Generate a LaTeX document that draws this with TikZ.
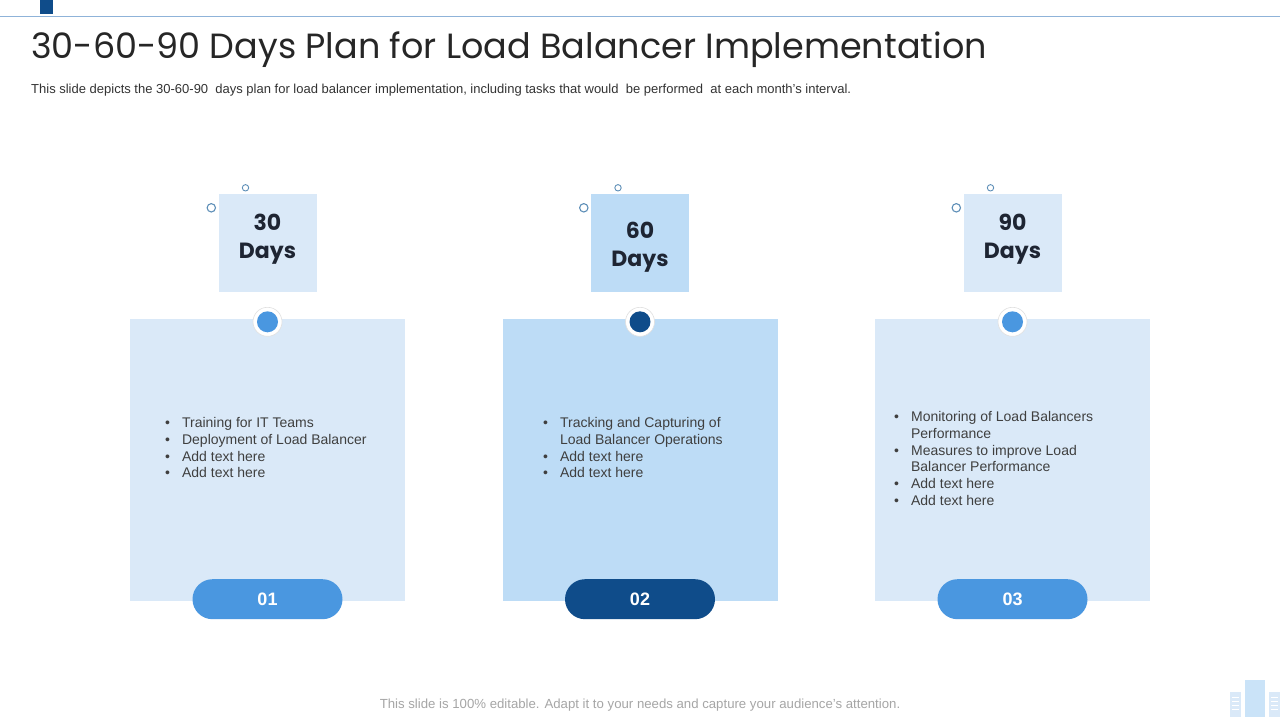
\documentclass[tikz,border=0pt]{standalone}
\usepackage{fontspec}
\setmainfont{Liberation Sans}
\newfontfamily\gothic{Poppins}
\usetikzlibrary{positioning}
\definecolor{navy}{HTML}{0F4C8A}
\definecolor{skyblue}{HTML}{4A97E0}
\definecolor{paleblue}{HTML}{DAE9F8}
\definecolor{midblue}{HTML}{BDDCF6}
\definecolor{rulecol}{HTML}{8FB3D9}
\definecolor{inkcol}{HTML}{3F3F3F}
\definecolor{ringcol}{HTML}{5E8FB8}
\definecolor{daytext}{HTML}{1E2533}
\tikzset{
  daybox/.style={minimum width=98pt,minimum height=98pt,inner sep=0pt},
  daytxt/.style={font=\gothic\bfseries\fontsize{22}{28}\selectfont,text=daytext,align=center,inner sep=0pt},
  cardbox/.style={minimum width=275pt,minimum height=282pt,inner sep=0pt},
  pill/.style={rounded corners=20pt,minimum width=150pt,minimum height=40pt,inner sep=0pt,text=white,font=\bfseries\fontsize{18}{20}\selectfont},
  bullets/.style={anchor=north west,inner sep=0pt,text=inkcol,font=\fontsize{14}{16.7}\selectfont,align=left},
}
\newcommand\bul{\textbullet}
\begin{document}
\begin{tikzpicture}[x=1pt,y=-1pt]
  \useasboundingbox[fill=white] (0,0) rectangle (1280,720);
  % header
  \draw[rulecol,line width=1pt] (0,16)--(1280,16);
  \fill[navy] (40,0) rectangle (53,14);
  \node[anchor=west,inner sep=0pt,text=black!85,font=\gothic\fontsize{35}{38}\selectfont] (title) at (31,50) {30-60-90 Days Plan for Load Balancer Implementation};
  \node[anchor=west,inner sep=0pt,text=black!80,font=\fontsize{13}{15}\selectfont] (sub) at (31,90) {This slide depicts the 30-60-90~ days plan for load balancer implementation, including tasks that would~ be performed~ at each month's interval.};
  % columns
  \foreach \n/\x/\d/\dy/\cfill/\dfill in {1/267.5/30/4/paleblue/skyblue, 2/640/60/-4/midblue/navy, 3/1012.5/90/4/paleblue/skyblue}{
    \node[daybox,fill=\cfill] (day\n) at (\x,243) {};
    \node[daytxt] (dayt\n) at ([yshift=\dy]day\n.center) {\d\\Days};
    \draw[ringcol,line width=0.9pt] ([xshift=-22pt,yshift=6pt]day\n.north) circle (3.2);
    \draw[ringcol,line width=1.1pt] ([xshift=-7pt,yshift=-14pt]day\n.north west) circle (4.2);
    \node[cardbox,fill=\cfill] (card\n) at (\x,460) {};
    \node[circle,fill=white,draw=black!12,line width=0.6pt,minimum size=29pt,inner sep=0pt] (ring\n) at ([yshift=-3pt]card\n.north) {};
    \node[circle,fill=\dfill,minimum size=21pt,inner sep=0pt] (dot\n) at (ring\n) {};
    \node[pill,fill=\dfill] (pill\n) at ([yshift=2pt]card\n.south) {0\n};
  }
  % card texts
  \node[bullets] (txt1) at (165,416) {\begin{tabular}{@{}l@{\hspace{12pt}}l@{}}
    \bul & Training for IT Teams\\ \bul & Deployment of Load Balancer\\ \bul & Add text here\\ \bul & Add text here\end{tabular}};
  \node[bullets] (txt2) at (543,416) {\begin{tabular}{@{}l@{\hspace{12pt}}l@{}}
    \bul & Tracking and Capturing of\\ & Load Balancer Operations\\ \bul & Add text here\\ \bul & Add text here\end{tabular}};
  \node[bullets] (txt3) at (894,410) {\begin{tabular}{@{}l@{\hspace{12pt}}l@{}}
    \bul & Monitoring of Load Balancers\\ & Performance\\ \bul & Measures to improve Load\\ & Balancer Performance\\ \bul & Add text here\\ \bul & Add text here\end{tabular}};
  % footer
  \node[inner sep=0pt,text=black!35,font=\fontsize{13.2}{15}\selectfont] (foot) at (640,705) {This slide is 100\% editable. Adapt it to your needs and capture your audience's attention.};
  \fill[midblue!80] (1245,680) rectangle (1265,717);
  \fill[paleblue] (1230,692) rectangle (1241,717);
  \fill[paleblue] (1269,692) rectangle (1280,717);
  \foreach \yy in {697,701,705,709}{
    \draw[white,line width=0.8pt] (1232,\yy)--(1239,\yy);
    \draw[white,line width=0.8pt] (1271,\yy)--(1278,\yy);
  }
\end{tikzpicture}
\end{document}
